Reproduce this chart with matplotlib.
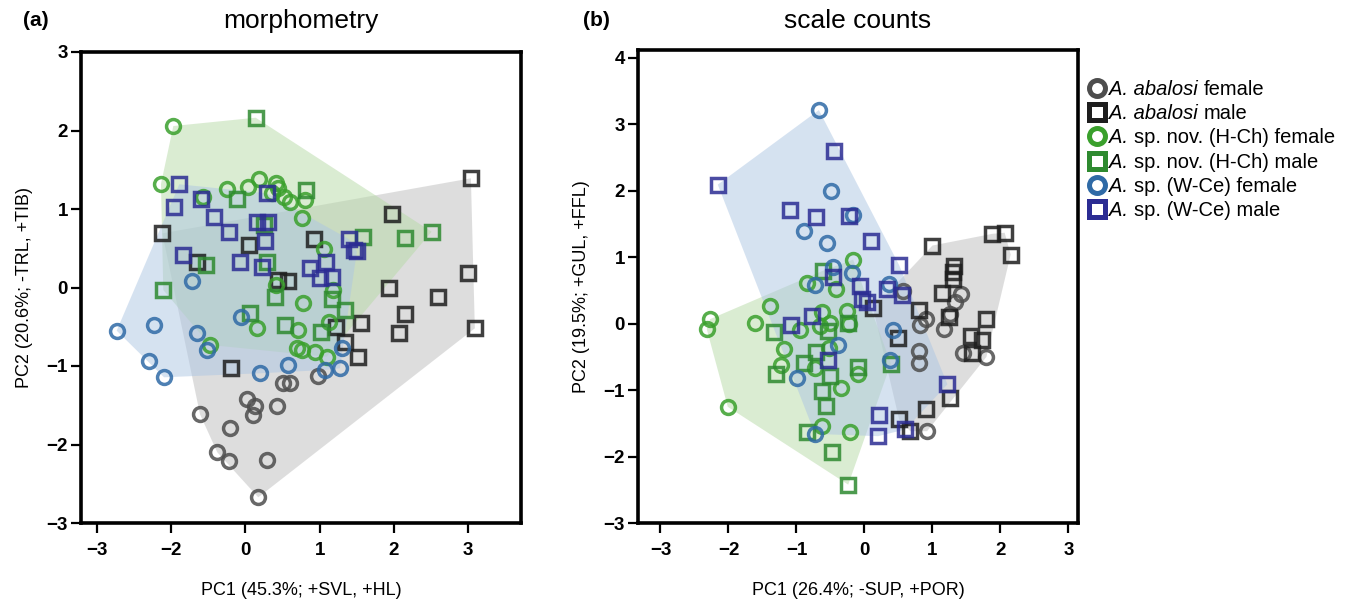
import numpy as np
import matplotlib
matplotlib.use("Agg")
import matplotlib.pyplot as plt
from matplotlib.lines import Line2D

plt.rcParams['font.family'] = ['Liberation Sans', 'DejaVu Sans']

# ---------------- data: morphometry (panel a) ----------------
a_abf_x = [0.511, 0.027, 0.130, 0.100, 0.422, -0.609, -0.206, -0.377, -0.215, 0.296, 0.175, 0.982, 0.601]
a_abf_y = [-1.213, -1.424, -1.510, -1.628, -1.506, -1.615, -1.794, -2.099, -2.206, -2.197, -2.673, -1.127, -1.220]
a_abm_x = [-1.116, 0.054, -0.654, 0.436, 0.578, 0.924, 3.036, 1.969, 2.991, 1.937, 2.596, 2.148, 1.556, 1.220,
           3.089, 2.071, 1.341, 1.520, -0.196]
a_abm_y = [0.690, 0.541, 0.329, 0.096, 0.083, 0.614, 1.391, 0.932, 0.181, -0.003, -0.117, -0.338, -0.456, -0.499,
           -0.520, -0.583, -0.690, -0.882, -1.029]
a_hcf_x = [-0.968, -1.134, -0.565, -0.250, 0.040, 0.184, 0.413, 0.444, 0.355, 0.521, 0.601, 0.803, 0.759, 1.059,
           0.413, 0.783, 1.184, 1.130, 0.713, 0.691, 0.759, 0.937, 1.095, 0.161, -0.475]
a_hcf_y = [2.057, 1.318, 1.157, 1.251, 1.276, 1.378, 1.327, 1.271, 1.200, 1.157, 1.093, 1.115, 0.882, 0.487,
           0.032, -0.197, -0.032, -0.436, -0.541, -0.775, -0.796, -0.818, -0.882, -0.520, -0.732]
a_hcm_x = [0.140, -0.112, 0.816, 0.252, -0.529, 0.296, -1.103, 0.399, 2.507, 2.148, 1.587, 1.162, 1.341, 1.014,
           0.063, 0.534]
a_hcm_y = [2.163, 1.124, 1.242, 0.796, 0.287, 0.329, -0.032, -0.121, 0.711, 0.627, 0.639, -0.146, -0.287, -0.563,
           -0.329, -0.478]
a_wcf_x = [-0.721, -0.062, -1.730, -1.228, -0.654, -0.511, -1.291, -1.093, 0.198, 0.578, 1.297, 1.072, 1.274]
a_wcf_y = [0.087, -0.380, -0.550, -0.478, -0.583, -0.796, -0.936, -1.144, -1.093, -0.987, -0.775, -1.051, -1.029]
a_wcm_x = [-0.888, -0.596, 0.288, -0.959, -0.417, 0.153, 0.301, -0.219, 0.265, -0.842, -0.071, 0.221, 1.399,
           1.462, 1.502, 0.870, 1.092, 1.005, 1.162]
a_wcm_y = [1.315, 1.124, 1.200, 1.022, 0.902, 0.838, 0.831, 0.703, 0.596, 0.410, 0.329, 0.257, 0.614,
           0.478, 0.459, 0.248, 0.325, 0.117, 0.138]

# ---------------- data: scale counts (panel b) ----------------
b_abf_x = [0.568, 0.912, 0.814, 1.327, 1.254, 1.166, 1.426, 0.803, 0.803, 1.449, 1.793, 0.921]
b_abf_y = [0.497, 0.069, -0.024, 0.320, 0.145, -0.082, 0.447, -0.409, -0.595, -0.435, -0.500, -1.618]
b_abm_x = [1.000, 1.881, 2.062, 2.150, 1.317, 1.302, 1.302, 1.147, 1.244, 0.803, 0.128, 1.783, 1.562, 1.734,
           1.587, 0.486, 1.254, 0.909, 0.510, 0.674]
b_abm_y = [1.177, 1.353, 1.369, 1.041, 0.875, 0.773, 0.674, 0.456, 0.104, 0.210, 0.230, 0.069, -0.183, -0.248,
           -0.435, -0.208, -1.124, -1.290, -1.441, -1.618]
b_hcf_x = [-1.389, -0.166, -0.850, -0.420, -2.270, -2.319, -1.609, -0.949, -0.630, -0.655, -0.508, -0.263,
           -0.225, -1.184, -1.228, -0.518, -0.728, -0.101, -0.347, -2.010, -0.621, -0.214]
b_hcf_y = [0.263, 0.965, 0.607, 0.523, 0.069, -0.082, 0.018, -0.097, 0.169, -0.032, 0.018, 0.195,
           -0.006, -0.384, -0.621, -0.360, -0.662, -0.761, -0.964, -1.251, -1.542, -1.633]
b_hcm_x = [-0.606, -1.330, -0.533, -0.239, -1.305, -0.714, -0.885, -0.508, -0.093, 0.388, -0.630, -0.567,
           -0.850, -0.474, -0.239]
b_hcm_y = [0.799, -0.122, -0.107, 0.018, -0.752, -0.424, -0.595, -0.787, -0.651, -0.601, -1.014, -1.240,
           -1.633, -1.935, -2.423]
b_wcf_x = [-0.670, -0.493, -0.885, -0.548, -0.175, -0.468, -0.181, -0.728, 0.363, -0.395, -0.997, 0.377,
           0.421, -0.728]
b_wcf_y = [3.216, 1.992, 1.388, 1.222, 1.630, 0.860, 0.758, 0.583, 0.598, -0.323, -0.813, -0.553,
           -0.097, -1.659]
b_wcm_x = [-2.157, -0.445, -1.095, -0.714, -0.225, 0.094, 0.510, -0.468, -0.068, -0.043, 0.031, 0.325,
           0.549, -1.081, -0.768, -0.533, 1.220, 0.211, 0.601, 0.201]
b_wcm_y = [2.094, 2.597, 1.716, 1.604, 1.615, 1.245, 0.882, 0.708, 0.562, 0.372, 0.320, 0.523,
           0.437, -0.021, 0.119, -0.545, -0.912, -1.381, -1.592, -1.693]

# legend labels: (italic part, upright part)
group_labels = [("A. abalosi", "female"), ("A. abalosi", "male"),
                ("A.", "sp. nov. (H-Ch) female"), ("A.", "sp. nov. (H-Ch) male"),
                ("A.", "sp. (W-Ce) female"), ("A.", "sp. (W-Ce) male")]
group_colors = ['#4d4d4d', '#1e1e1e', '#3aa02c', '#2e8a30', '#2f6aa6', '#2b2c93']
group_markers = ['o', 's', 'o', 's', 'o', 's']
hull_colors = ['#bdbdbd', '#b6daa6', '#adc6e3']   # abalosi, H-Ch, W-Ce

a_x_ticks = [-2, -1, 0, 1, 2, 3]
a_x_ticklabels = ['\u22123', '\u22122', '0', '1', '2', '3']
a_y_ticks = [-3, -2, -1, 0, 1, 2, 3]
b_x_ticks = [-3, -2, -1, 0, 1, 2, 3]
b_y_ticks = [-3, -2, -1, 0, 1, 2, 3, 4]

TICK_FS = 13.5


def convex_hull(px, py):
    pts = sorted(set(zip(px, py)))
    if len(pts) < 3:
        return pts

    def cross(o, a, b):
        return (a[0] - o[0]) * (b[1] - o[1]) - (a[1] - o[1]) * (b[0] - o[0])
    lower, upper = [], []
    for p in pts:
        while len(lower) >= 2 and cross(lower[-2], lower[-1], p) <= 0:
            lower.pop()
        lower.append(p)
    for p in reversed(pts):
        while len(upper) >= 2 and cross(upper[-2], upper[-1], p) <= 0:
            upper.pop()
        upper.append(p)
    return lower[:-1] + upper[:-1]


def fmt(v):
    return f"{v}".replace('-', '\u2212')


fig = plt.figure(figsize=(13.52, 6.01), dpi=100)
W, H = 1352, 601
axA = fig.add_axes([81 / W, 1 - 523 / H, 440 / W, 471 / H])
axB = fig.add_axes([638 / W, 1 - 523 / H, 440 / W, 473 / H])

panels = [
    (axA, [(a_abf_x, a_abf_y), (a_abm_x, a_abm_y), (a_hcf_x, a_hcf_y), (a_hcm_x, a_hcm_y),
           (a_wcf_x, a_wcf_y), (a_wcm_x, a_wcm_y)]),
    (axB, [(b_abf_x, b_abf_y), (b_abm_x, b_abm_y), (b_hcf_x, b_hcf_y), (b_hcm_x, b_hcm_y),
           (b_wcf_x, b_wcf_y), (b_wcm_x, b_wcm_y)]),
]

for ax, groups in panels:
    for k in range(3):
        xs = list(groups[2 * k][0]) + list(groups[2 * k + 1][0])
        ys = list(groups[2 * k][1]) + list(groups[2 * k + 1][1])
        hull = convex_hull(xs, ys)
        ax.fill([p[0] for p in hull], [p[1] for p in hull], color=hull_colors[k],
                alpha=0.5, lw=0, zorder=1)
    for i, (gx, gy) in enumerate(groups):
        ax.plot(gx, gy, ls='none', marker=group_markers[i], mfc='none',
                mec=group_colors[i], mew=2.5, ms=10, alpha=0.85, zorder=3)
    for sp in ax.spines.values():
        sp.set_linewidth(2.6)
    ax.tick_params(direction='out', length=7.5, width=1.6)
    ax.tick_params(axis='x', pad=6)
    ax.tick_params(axis='y', pad=2)

axA.set_xlim(-2.21, 3.71)
axA.set_ylim(-3, 3)
axA.set_xticks(a_x_ticks)
axA.set_xticklabels(a_x_ticklabels, fontweight='bold', fontsize=TICK_FS)
axA.set_yticks(a_y_ticks)
axA.set_yticklabels([fmt(v) for v in a_y_ticks], fontweight='bold', fontsize=TICK_FS)

axB.set_xlim(-3.33, 3.14)
axB.set_ylim(-3, 4.12)
axB.set_xticks(b_x_ticks)
axB.set_xticklabels([fmt(v) for v in b_x_ticks], fontweight='bold', fontsize=TICK_FS)
axB.set_yticks(b_y_ticks)
axB.set_yticklabels([fmt(v) for v in b_y_ticks], fontweight='bold', fontsize=TICK_FS)

axA.set_xlabel("PC1 (45.3%; +SVL, +HL)", fontsize=13, labelpad=17)
axA.set_ylabel("PC2 (20.6%; -TRL, +TIB)", fontsize=13, labelpad=10)
axB.set_xlabel("PC1 (26.4%; -SUP, +POR)", fontsize=13, labelpad=17)
axB.set_ylabel("PC2 (19.5%; +GUL, +FFL)", fontsize=13, labelpad=10)

fig.text(301 / W, 1 - 21 / H, "morphometry", fontsize=19, ha='center', va='center')
fig.text(858 / W, 1 - 21 / H, "scale counts", fontsize=19, ha='center', va='center')
fig.text(23 / W, 1 - 21 / H, "(a)", fontsize=15, fontweight='bold', va='center')
fig.text(583 / W, 1 - 21 / H, "(b)", fontsize=15, fontweight='bold', va='center')

# ---- legend (drawn as markers + two-style text) ----
renderer = fig.canvas.get_renderer()
LEG_FS = 14.5
row_y0, row_dy = 88.0, 24.2
mk_x, txt_x = 1097.0, 1109.0
space_px = 0.278 * LEG_FS * 100 / 72
for i, (it_part, rm_part) in enumerate(group_labels):
    yc = row_y0 + i * row_dy
    fig.add_artist(Line2D([mk_x / W], [1 - yc / H], transform=fig.transFigure, ls='none',
                          marker=group_markers[i], mfc='none', mec=group_colors[i],
                          mew=3.6, ms=11.5))
    base = 1 - (yc + 7.0) / H
    t1 = fig.text(txt_x / W, base, it_part, fontsize=LEG_FS, style='italic', va='baseline')
    bb = t1.get_window_extent(renderer)
    fig.text((bb.x1 + space_px) / W, base, rm_part, fontsize=LEG_FS, va='baseline')

fig.savefig("out.png", dpi=100)
